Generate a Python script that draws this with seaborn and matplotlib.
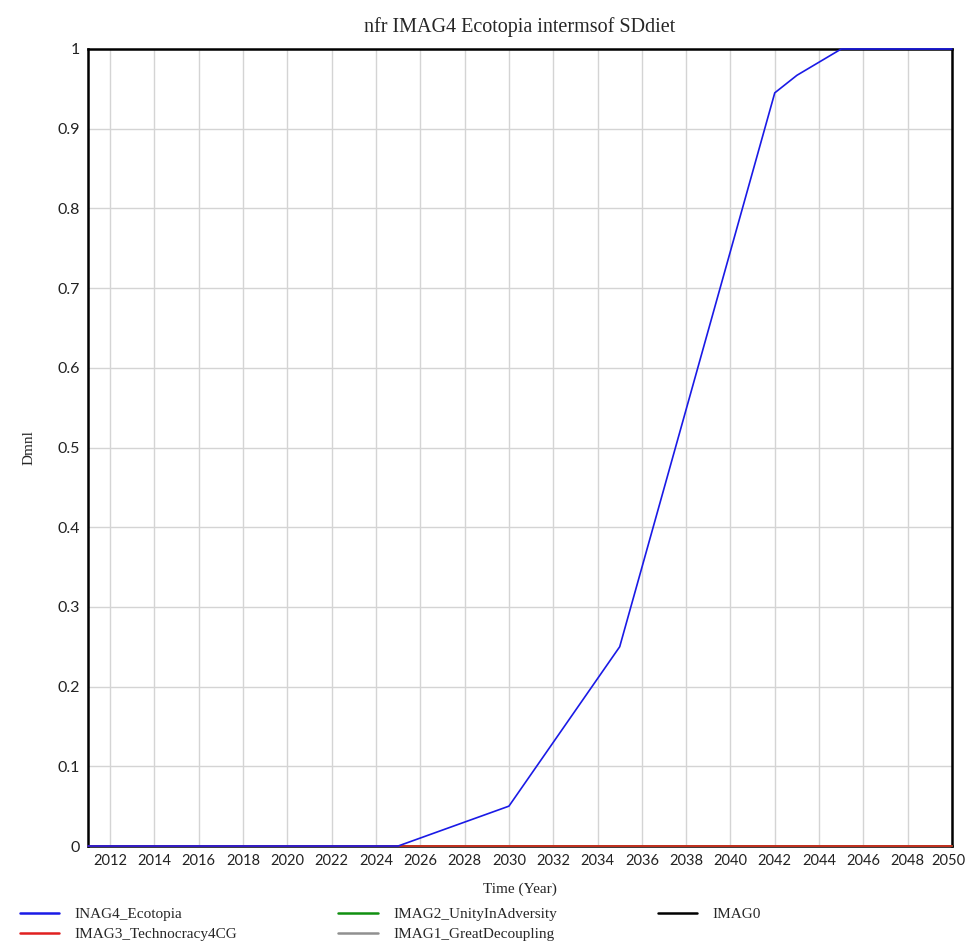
import matplotlib
matplotlib.use("Agg")
import matplotlib.pyplot as plt
import matplotlib.transforms as mtransforms
import seaborn as sns
import pandas as pd

years = [2011, 2025, 2030, 2035, 2042, 2043, 2045, 2050]
ecotopia = [0, 0, 0.05, 0.25, 0.945, 0.967, 1.0, 1.0]
flat_years = [2011, 2050]
technocracy = [0, 0]
unity = [0, 0]
decoupling = [0, 0]
imag0 = [0, 0]

series_names = ["INAG4_Ecotopia", "IMAG3_Technocracy4CG", "IMAG2_UnityInAdversity",
                "IMAG1_GreatDecoupling", "IMAG0"]
colors = ["#1a1ae6", "#e02020", "#109010", "#909090", "#000000"]
xticks = list(range(2012, 2051, 2))
yticks = [0, 0.1, 0.2, 0.3, 0.4, 0.5, 0.6, 0.7, 0.8, 0.9, 1]
ytick_labels = ["0", "0.1", "0.2", "0.3", "0.4", "0.5", "0.6", "0.7", "0.8", "0.9", "1"]

sns.set_theme(style="white")
plt.rcParams['font.family'] = ['Liberation Serif', 'DejaVu Serif']

fig = plt.figure(figsize=(9.66, 9.42), dpi=100)
ax = fig.add_axes([88/966, 1-846/942, (952-88)/966, (846-49)/942])

frames = [
    (series_names[4], flat_years, imag0),
    (series_names[3], flat_years, decoupling),
    (series_names[2], flat_years, unity),
    (series_names[1], flat_years, technocracy),
    (series_names[0], years, ecotopia),
]
handles = {}
for name, xs, ys in frames:
    df = pd.DataFrame({"x": xs, "y": ys})
    c = colors[series_names.index(name)]
    sns.lineplot(data=df, x="x", y="y", ax=ax, color=c, linewidth=1.2, label=name, legend=False)
    ln = ax.lines[-1]
    ln.set_clip_on(False)
    ln.set_zorder(5)
    handles[name] = ln

ax.set_xlim(2011, 2050)
ax.set_ylim(0, 1)
ax.set_xticks(xticks)
ax.set_xticklabels([str(t) for t in xticks], fontsize=10.5, family=['Lato', 'DejaVu Sans'], color="#222222")
ax.set_yticks(yticks)
ax.set_yticklabels(ytick_labels, fontsize=11.5, family=['Lato', 'DejaVu Sans'], color="#222222")
ax.grid(True, color="#d4d4d4", linewidth=1)
for s in ax.spines.values():
    s.set_color("black")
    s.set_linewidth(1.8)
    s.set_zorder(4)
ax.tick_params(axis="both", length=0, pad=6)

# nudge last x tick label left so it stays inside the figure
last_lbl = ax.get_xticklabels()[-1]
last_lbl.set_transform(last_lbl.get_transform() +
                       mtransforms.ScaledTranslation(-4/100, 0, fig.dpi_scale_trans))

ax.set_xlabel("Time (Year)", fontsize=11, labelpad=10)
ax.set_ylabel("Dmnl", fontsize=11)
ax.yaxis.set_label_coords(-52/864, 0.5)
ax.set_title("nfr IMAG4 Ecotopia intermsof SDdiet", fontsize=14.5, pad=12)

ordered = [handles[n] for n in series_names]
leg = fig.legend(ordered, series_names, loc="lower left", bbox_to_anchor=(0.006, -0.014),
                 ncol=3, frameon=False, fontsize=11, handlelength=2.6, handletextpad=1.0,
                 columnspacing=6.6, labelspacing=0.45)
for line in leg.get_lines():
    line.set_linewidth(1.8)

fig.savefig("out.png", dpi=100)
